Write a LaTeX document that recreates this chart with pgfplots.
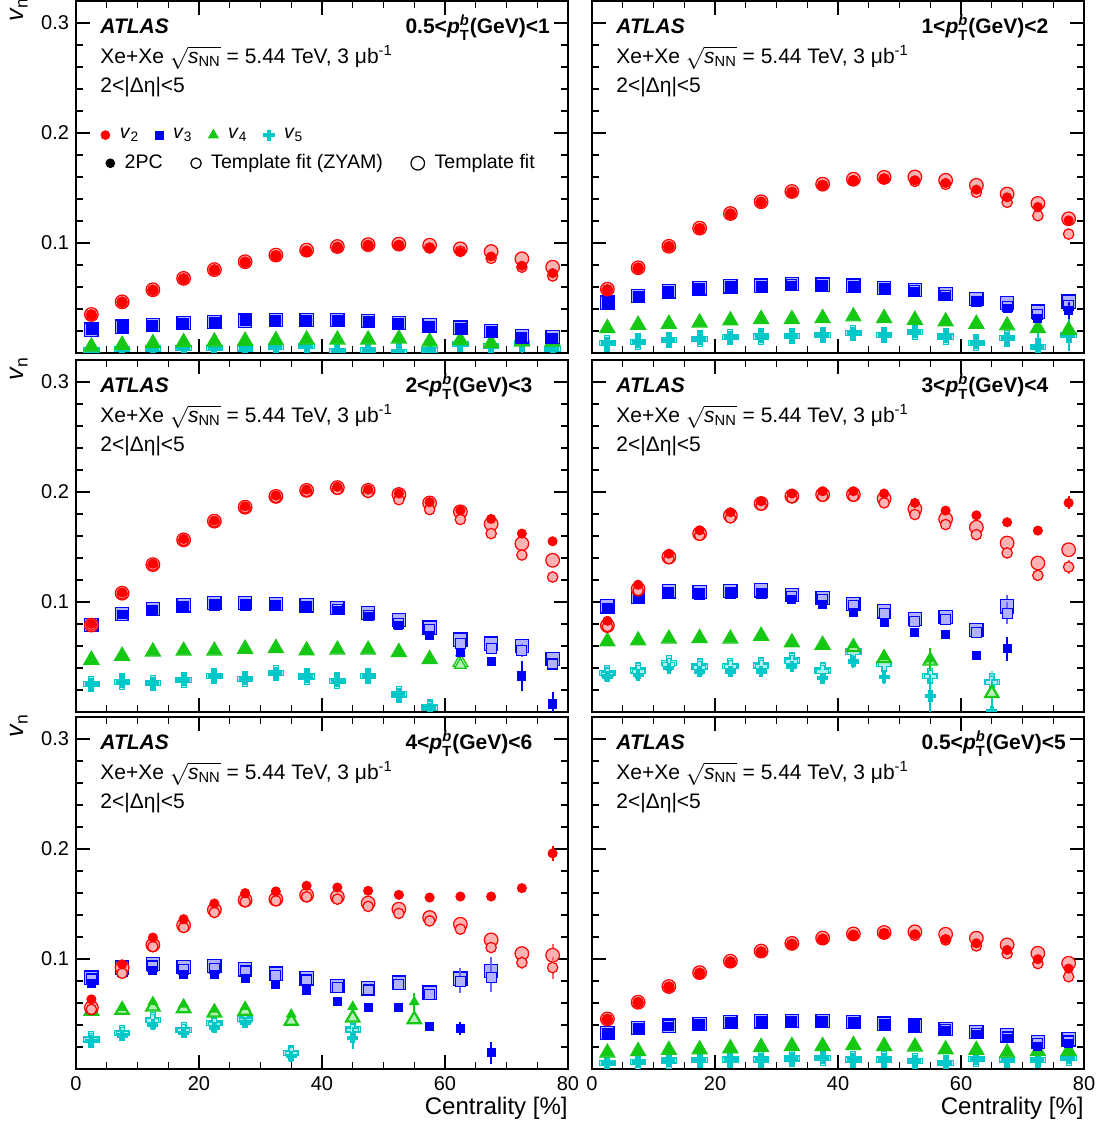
\documentclass[border=0pt]{standalone}
\usepackage{fontspec}
\setmainfont{Liberation Sans}
\usepackage{pgfplots}
\usepackage{pgfplotstable}
\pgfplotsset{compat=1.18}
\definecolor{atlred}{RGB}{255,0,0}
\definecolor{atlblue}{RGB}{0,0,255}
\definecolor{atlgreen}{RGB}{20,200,20}
\definecolor{atlcyan}{RGB}{0,200,200}

\pgfdeclareplotmark{fatplus}{%
  \pgfpathmoveto{\pgfpoint{-0.33\pgfplotmarksize}{\pgfplotmarksize}}%
  \pgfpathlineto{\pgfpoint{0.33\pgfplotmarksize}{\pgfplotmarksize}}%
  \pgfpathlineto{\pgfpoint{0.33\pgfplotmarksize}{0.33\pgfplotmarksize}}%
  \pgfpathlineto{\pgfpoint{\pgfplotmarksize}{0.33\pgfplotmarksize}}%
  \pgfpathlineto{\pgfpoint{\pgfplotmarksize}{-0.33\pgfplotmarksize}}%
  \pgfpathlineto{\pgfpoint{0.33\pgfplotmarksize}{-0.33\pgfplotmarksize}}%
  \pgfpathlineto{\pgfpoint{0.33\pgfplotmarksize}{-\pgfplotmarksize}}%
  \pgfpathlineto{\pgfpoint{-0.33\pgfplotmarksize}{-\pgfplotmarksize}}%
  \pgfpathlineto{\pgfpoint{-0.33\pgfplotmarksize}{-0.33\pgfplotmarksize}}%
  \pgfpathlineto{\pgfpoint{-\pgfplotmarksize}{-0.33\pgfplotmarksize}}%
  \pgfpathlineto{\pgfpoint{-\pgfplotmarksize}{0.33\pgfplotmarksize}}%
  \pgfpathlineto{\pgfpoint{-0.33\pgfplotmarksize}{0.33\pgfplotmarksize}}%
  \pgfpathclose
  \pgfusepathqfillstroke
}

% ---------------- data: c = centrality, pc = 2PC, e = 2PC error, zy = template fit (ZYAM), tf = template fit, te = template error
% Panel A: 0.5<pT<1
\pgfplotstableread{
c pc e zy tf te
2.5 0.0346 0 0.0346 0.0350 0
7.5 0.0462 0 0.0462 0.0465 0
12.5 0.0571 0 0.0571 0.0575 0
17.5 0.0674 0 0.0674 0.0678 0
22.5 0.0753 0 0.0755 0.0758 0
27.5 0.0826 0 0.0826 0.0830 0
32.5 0.0884 0 0.0884 0.0890 0
37.5 0.0926 0 0.0926 0.0935 0
42.5 0.0960 0 0.0960 0.0968 0
47.5 0.0978 0 0.0978 0.0985 0
52.5 0.0978 0 0.0978 0.0990 0
57.5 0.0954 0 0.0954 0.0980 0
62.5 0.0917 0 0.0925 0.0947 0
67.5 0.0877 0 0.0860 0.0922 0
72.5 0.0793 0 0.0780 0.0856 0
77.5 0.0726 0 0.0700 0.0780 0
}\tAtwo
\pgfplotstableread{
c pc e zy tf te
2.5 0.0210 0 0.0210 0.0212 0
7.5 0.0237 0 0.0237 0.0240 0
12.5 0.0252 0 0.0252 0.0255 0
17.5 0.0267 0 0.0267 0.0270 0
22.5 0.0279 0 0.0279 0.0282 0
27.5 0.0292 0 0.0292 0.0295 0
32.5 0.0295 0 0.0295 0.0298 0
37.5 0.0295 0 0.0295 0.0298 0
42.5 0.0295 0 0.0295 0.0298 0
47.5 0.0285 0 0.0285 0.0290 0
52.5 0.0270 0 0.0270 0.0275 0
57.5 0.0243 0 0.0243 0.0250 0
62.5 0.0222 0 0.0222 0.0230 0
67.5 0.0191 0 0.0191 0.0200 0
72.5 0.0143 0 0.0143 0.0150 0
77.5 0.0130 0 0.0135 0.0145 0
}\tAthree
\pgfplotstableread{
c pc e zy tf te
2.5 0.0058 0 0.0058 0.0058 0
7.5 0.0073 0 0.0073 0.0073 0
12.5 0.0088 0 0.0088 0.0088 0
17.5 0.0097 0 0.0097 0.0097 0
22.5 0.0103 0 0.0103 0.0103 0
27.5 0.0110 0 0.0110 0.0110 0
32.5 0.0115 0 0.0115 0.0115 0
37.5 0.0121 0 0.0121 0.0121 0
42.5 0.0121 0 0.0121 0.0121 0
47.5 0.0121 0 0.0121 0.0121 0
52.5 0.0130 0 0.0130 0.0130 0
57.5 0.0103 0 0.0103 0.0103 0
62.5 0.0115 0 0.0115 0.0115 0
67.5 0.0088 0 0.0088 0.0088 0
72.5 0.0103 0 0.0103 0.0103 0
77.5 0.0103 0 0.0103 0.0103 0
}\tAfour
\pgfplotstableread{
c pc e zy tf te
2.5 0.0027 0 0.0027 0.0027 0
7.5 0.0033 0 0.0033 0.0033 0
12.5 0.0040 0 0.0040 0.0040 0
17.5 0.0046 0 0.0046 0.0046 0
22.5 0.0043 0 0.0043 0.0043 0
27.5 0.0040 0 0.0040 0.0040 0
32.5 0.0052 0 0.0052 0.0052 0
37.5 0.0064 0 0.0064 0.0064 0
42.5 0.0021 0 0.0021 0.0021 0
47.5 0.0027 0 0.0027 0.0027 0
52.5 0.0012 0 0.0012 0.0012 0
57.5 0.0027 0 0.0027 0.0027 0
62.5 0.0080 0 0.0080 0.0080 0
67.5 0.0064 0 0.0064 0.0064 0
72.5 0.0088 0.012 0.0088 0.0088 0
77.5 0.0033 0 0.0033 0.0033 0
}\tAfive
% Panel B: 1<pT<2
\pgfplotstableread{
c pc e zy tf te
2.5 0.0574 0 0.0574 0.0580 0
7.5 0.0771 0 0.0771 0.0775 0
12.5 0.0966 0 0.0966 0.0970 0
17.5 0.1130 0 0.1130 0.1135 0
22.5 0.1263 0 0.1263 0.1268 0
27.5 0.1370 0 0.1370 0.1375 0
32.5 0.1461 0 0.1461 0.1468 0
37.5 0.1524 0 0.1524 0.1535 0
42.5 0.1567 0 0.1567 0.1580 0
47.5 0.1582 0 0.1582 0.1597 0
52.5 0.1570 0 0.1560 0.1600 0
57.5 0.1546 0 0.1533 0.1570 0
62.5 0.1485 0 0.1461 0.1524 0
67.5 0.1415 0 0.1370 0.1445 0
72.5 0.1327 0 0.1248 0.1360 0
77.5 0.1206 0 0.1081 0.1220 0
}\tBtwo
\pgfplotstableread{
c pc e zy tf te
2.5 0.0452 0 0.0455 0.0458 0
7.5 0.0513 0 0.0515 0.0520 0
12.5 0.0553 0 0.0555 0.0560 0
17.5 0.0580 0 0.0582 0.0588 0
22.5 0.0598 0 0.0600 0.0606 0
27.5 0.0604 0 0.0606 0.0612 0
32.5 0.0617 0 0.0619 0.0625 0
37.5 0.0614 0 0.0616 0.0622 0
42.5 0.0604 0 0.0606 0.0612 0
47.5 0.0583 0 0.0585 0.0592 0
52.5 0.0562 0 0.0565 0.0575 0
57.5 0.0513 0 0.0520 0.0537 0
62.5 0.0467 0 0.0467 0.0492 0
67.5 0.0407 0 0.0420 0.0452 0
72.5 0.0316 0 0.0350 0.0376 0
77.5 0.0385 0.008 0.0430 0.0467 0
}\tBthree
\pgfplotstableread{
c pc e zy tf te
2.5 0.0225 0 0.0225 0.0225 0
7.5 0.0255 0 0.0255 0.0255 0
12.5 0.0264 0 0.0264 0.0264 0
17.5 0.0276 0 0.0276 0.0276 0
22.5 0.0295 0 0.0295 0.0295 0
27.5 0.0307 0 0.0307 0.0307 0
32.5 0.0307 0 0.0307 0.0307 0
37.5 0.0316 0 0.0316 0.0316 0
42.5 0.0331 0 0.0331 0.0331 0
47.5 0.0316 0 0.0316 0.0316 0
52.5 0.0301 0 0.0301 0.0301 0
57.5 0.0286 0 0.0286 0.0286 0
62.5 0.0264 0 0.0264 0.0264 0
67.5 0.0249 0 0.0249 0.0249 0
72.5 0.0225 0 0.0225 0.0225 0
77.5 0.0209 0 0.0209 0.0209 0
}\tBfour
\pgfplotstableread{
c pc e zy tf te
2.5 0.0088 0 0.0088 0.0088 0
7.5 0.0103 0 0.0103 0.0103 0
12.5 0.0118 0 0.0118 0.0118 0
17.5 0.0130 0 0.0130 0.0130 0
22.5 0.0143 0 0.0143 0.0143 0
27.5 0.0149 0 0.0149 0.0149 0
32.5 0.0155 0 0.0155 0.0155 0
37.5 0.0164 0 0.0164 0.0164 0
42.5 0.0179 0 0.0179 0.0179 0
47.5 0.0164 0 0.0164 0.0164 0
52.5 0.0194 0 0.0194 0.0194 0
57.5 0.0149 0.006 0.0149 0.0149 0
62.5 0.0094 0 0.0094 0.0094 0
67.5 0.0133 0.006 0.0133 0.0133 0
72.5 0.0058 0.012 0.0058 0.0058 0
77.5 0.0164 0.015 0.0164 0.0164 0
}\tBfive
% Panel C: 2<pT<3
\pgfplotstableread{
c pc e zy tf te
2.5 0.0802 0 0.0790 0.0790 0
7.5 0.1087 0 0.1075 0.1080 0
12.5 0.1348 0 0.1335 0.1340 0
17.5 0.1573 0 0.1560 0.1565 0
22.5 0.1740 0 0.1728 0.1735 0
27.5 0.1870 0 0.1855 0.1862 0
32.5 0.1968 0 0.1950 0.1960 0
37.5 0.2022 0 0.2005 0.2015 0
42.5 0.2047 0 0.2025 0.2040 0
47.5 0.2022 0 0.1995 0.2015 0
52.5 0.1986 0 0.1930 0.1977 0
57.5 0.1907 0 0.1840 0.1900 0
62.5 0.1831 0 0.1750 0.1820 0
67.5 0.1755 0 0.1622 0.1710 0
72.5 0.1622 0 0.1427 0.1530 0
77.5 0.1552 0 0.1227 0.1379 0
}\tCtwo
\pgfplotstableread{
c pc e zy tf te
2.5 0.0783 0 0.0785 0.0790 0
7.5 0.0884 0 0.0880 0.0890 0
12.5 0.0923 0 0.0925 0.0935 0
17.5 0.0957 0 0.0960 0.0969 0
22.5 0.0969 0 0.0972 0.0990 0
27.5 0.0969 0 0.0972 0.0990 0
32.5 0.0963 0 0.0965 0.0981 0
37.5 0.0950 0 0.0955 0.0969 0
42.5 0.0920 0 0.0930 0.0944 0
47.5 0.0868 0 0.0880 0.0902 0
52.5 0.0786 0 0.0808 0.0838 0
57.5 0.0692 0 0.0747 0.0768 0
62.5 0.0544 0 0.0626 0.0659 0
67.5 0.0458 0.003 0.0580 0.0622 0.003
72.5 0.0328 0.014 0.0559 0.0598 0.006
77.5 0.0073 0.011 0.0437 0.0480 0.004
}\tCthree
\pgfplotstableread{
c pc e zy tf te
2.5 0.0474 0 0.0474 0.0474 0
7.5 0.0510 0 0.0510 0.0510 0
12.5 0.0549 0 0.0549 0.0549 0
17.5 0.0556 0 0.0556 0.0556 0
22.5 0.0556 0 0.0556 0.0556 0
27.5 0.0574 0 0.0574 0.0574 0
32.5 0.0580 0 0.0580 0.0580 0
37.5 0.0559 0 0.0559 0.0559 0
42.5 0.0565 0 0.0565 0.0565 0
47.5 0.0565 0 0.0565 0.0565 0
52.5 0.0544 0 0.0544 0.0544 0
57.5 0.0480 0 0.0480 0.0480 0
62.5 0.0535 0.004 0.0428 0.0453 0
}\tCfour
\pgfplotstableread{
c pc e zy tf te
2.5 0.0252 0 0.0252 0.0252 0
7.5 0.0276 0 0.0276 0.0276 0
12.5 0.0261 0 0.0261 0.0261 0
17.5 0.0292 0 0.0292 0.0292 0
22.5 0.0328 0 0.0328 0.0328 0
27.5 0.0301 0 0.0301 0.0301 0
32.5 0.0352 0 0.0352 0.0352 0
37.5 0.0322 0 0.0322 0.0322 0
42.5 0.0285 0 0.0285 0.0285 0
47.5 0.0328 0 0.0328 0.0328 0
52.5 0.0155 0.005 0.0160 0.0160 0
57.5 0.0033 0.005 0.0040 0.0040 0
}\tCfive
% Panel D: 3<pT<4
\pgfplotstableread{
c pc e zy tf te
2.5 0.0829 0 0.0777 0.0786 0
7.5 0.1157 0 0.1105 0.1118 0
12.5 0.1439 0 0.1394 0.1409 0
17.5 0.1652 0 0.1606 0.1622 0
22.5 0.1816 0 0.1764 0.1786 0
27.5 0.1916 0 0.1880 0.1895 0
32.5 0.1986 0 0.1947 0.1962 0
37.5 0.2007 0 0.1961 0.1977 0
42.5 0.2007 0 0.1961 0.1977 0
47.5 0.1986 0 0.1901 0.1940 0
52.5 0.1901 0 0.1795 0.1846 0
57.5 0.1831 0 0.1704 0.1755 0
62.5 0.1788 0 0.1612 0.1679 0
67.5 0.1725 0 0.1446 0.1536 0
72.5 0.1649 0 0.1242 0.1354 0
77.5 0.1901 0.006 0.1318 0.1475 0.006
}\tDtwo
\pgfplotstableread{
c pc e zy tf te
2.5 0.0938 0 0.0942 0.0960 0
7.5 0.1026 0 0.1030 0.1045 0
12.5 0.1081 0 0.1081 0.1096 0
17.5 0.1066 0 0.1072 0.1090 0
22.5 0.1075 0 0.1081 0.1102 0
27.5 0.1072 0 0.1080 0.1105 0
32.5 0.1026 0 0.1051 0.1066 0
37.5 0.0975 0 0.1020 0.1036 0
42.5 0.0908 0 0.0966 0.0984 0
47.5 0.0817 0 0.0893 0.0914 0
52.5 0.0726 0 0.0823 0.0845 0
57.5 0.0708 0 0.0838 0.0863 0
62.5 0.0510 0.004 0.0723 0.0747 0.003
67.5 0.0574 0.011 0.0899 0.0960 0.010
}\tDthree
\pgfplotstableread{
c pc e zy tf te
2.5 0.0641 0 0.0641 0.0641 0
7.5 0.0650 0 0.0650 0.0650 0
12.5 0.0665 0 0.0665 0.0665 0
17.5 0.0671 0 0.0671 0.0671 0
22.5 0.0665 0 0.0665 0.0665 0
27.5 0.0692 0 0.0692 0.0692 0
32.5 0.0632 0 0.0632 0.0632 0
37.5 0.0610 0 0.0610 0.0610 0
42.5 0.0610 0 0.0589 0.0589 0
47.5 0.0500 0 0.0489 0.0489 0
55 0.0480 0.010 0.0465 0.0465 0
65 nan 0 0.0170 0.0170 0
}\tDfour
\pgfplotstableread{
c pc e zy tf te
2.5 0.0322 0 0.0345 0.0352 0
7.5 0.0337 0 0.0370 0.0377 0
12.5 0.0398 0 0.0435 0.0443 0
17.5 0.0368 0 0.0405 0.0413 0
22.5 0.0368 0 0.0412 0.0419 0
27.5 0.0368 0 0.0415 0.0422 0
32.5 0.0413 0 0.0460 0.0468 0
37.5 0.0307 0 0.0370 0.0377 0
42.5 0.0458 0.006 0.0540 0.0549 0
47.5 0.0316 0.006 0.0430 0.0437 0
55 0.0146 0.020 0.0320 0.0328 0.010
65 0.0003 0.030 0.0270 0.0276 0.010
}\tDfive
% Panel E: 4<pT<6
\pgfplotstableread{
c pc e zy tf te
2.5 0.0633 0 0.0542 0.0557 0
7.5 0.0952 0 0.0870 0.0922 0
12.5 0.1195 0 0.1113 0.1128 0
17.5 0.1362 0 0.1286 0.1307 0
22.5 0.1505 0 0.1423 0.1447 0
27.5 0.1599 0 0.1520 0.1535 0
32.5 0.1614 0 0.1529 0.1544 0
37.5 0.1666 0 0.1565 0.1581 0
42.5 0.1650 0 0.1544 0.1565 0
47.5 0.1620 0 0.1478 0.1508 0
52.5 0.1583 0 0.1414 0.1453 0
57.5 0.1559 0 0.1346 0.1377 0
62.5 0.1568 0 0.1271 0.1316 0
67.5 0.1568 0 0.1104 0.1174 0.004
72.5 0.1644 0.004 0.0967 0.1049 0.006
77.5 0.1960 0.007 0.0922 0.1034 0.010
}\tEtwo
\pgfplotstableread{
c pc e zy tf te
2.5 0.0779 0 0.0818 0.0831 0
7.5 0.0876 0 0.0891 0.0922 0
12.5 0.0897 0 0.0937 0.0952 0
17.5 0.0861 0 0.0907 0.0928 0
22.5 0.0861 0 0.0913 0.0937 0
27.5 0.0822 0 0.0891 0.0906 0
32.5 0.0770 0 0.0852 0.0867 0
37.5 0.0715 0 0.0809 0.0824 0
42.5 0.0612 0 0.0740 0.0754 0
47.5 0.0557 0 0.0718 0.0733 0
52.5 0.0557 0.002 0.0771 0.0785 0.003
57.5 0.0390 0.003 0.0680 0.0694 0.003
62.5 0.0369 0.006 0.0794 0.0822 0.010
67.5 0.0147 0.010 0.0831 0.0891 0.013
}\tEthree
\pgfplotstableread{
c pc e zy tf te
2.5 0.0557 0 0.0527 0.0527 0
7.5 0.0557 0 0.0536 0.0536 0
12.5 0.0609 0 0.0566 0.0566 0
17.5 0.0588 0 0.0551 0.0551 0
22.5 0.0542 0 0.0512 0.0512 0
27.5 0.0566 0 0.0527 0.0527 0
35 0.0496 0 0.0436 0.0436 0
45 0.0566 0 0.0466 0.0466 0
55 0.0609 0.008 0.0451 0.0451 0
}\tEfour
\pgfplotstableread{
c pc e zy tf te
2.5 0.0254 0 0.0265 0.0269 0
7.5 0.0305 0 0.0325 0.0329 0
12.5 0.0405 0 0.0438 0.0442 0
17.5 0.0329 0 0.0350 0.0354 0
22.5 0.0375 0 0.0410 0.0415 0
27.5 0.0421 0.004 0.0446 0.0451 0
35 0.0117 0.005 0.0145 0.0147 0
45 0.0284 0.010 0.0355 0.0360 0
}\tEfive
% Panel F: 0.5<pT<5
\pgfplotstableread{
c pc e zy tf te
2.5 0.0451 0 0.0451 0.0455 0
7.5 0.0603 0 0.0603 0.0607 0
12.5 0.0745 0 0.0745 0.0750 0
17.5 0.0870 0 0.0870 0.0876 0
22.5 0.0973 0 0.0973 0.0980 0
27.5 0.1064 0 0.1064 0.1072 0
32.5 0.1134 0 0.1134 0.1142 0
37.5 0.1180 0 0.1180 0.1190 0
42.5 0.1216 0 0.1216 0.1228 0
47.5 0.1234 0 0.1230 0.1241 0
52.5 0.1225 0 0.1215 0.1247 0
57.5 0.1180 0 0.1173 0.1225 0
62.5 0.1143 0 0.1119 0.1189 0
67.5 0.1082 0 0.1049 0.1128 0
72.5 0.0998 0 0.0958 0.1052 0
77.5 0.0913 0 0.0839 0.0961 0
}\tFtwo
\pgfplotstableread{
c pc e zy tf te
2.5 0.0320 0 0.0322 0.0325 0
7.5 0.0366 0 0.0368 0.0371 0
12.5 0.0390 0 0.0392 0.0395 0
17.5 0.0405 0 0.0407 0.0410 0
22.5 0.0421 0 0.0423 0.0426 0
27.5 0.0427 0 0.0429 0.0432 0
32.5 0.0433 0 0.0435 0.0438 0
37.5 0.0433 0 0.0435 0.0438 0
42.5 0.0421 0 0.0423 0.0426 0
47.5 0.0405 0 0.0408 0.0412 0
52.5 0.0384 0 0.0390 0.0395 0
57.5 0.0351 0 0.0358 0.0366 0
62.5 0.0314 0 0.0325 0.0338 0
67.5 0.0275 0 0.0290 0.0305 0
72.5 0.0208 0 0.0230 0.0245 0
77.5 0.0232 0 0.0255 0.0269 0
}\tFthree
\pgfplotstableread{
c pc e zy tf te
2.5 0.0147 0 0.0147 0.0147 0
7.5 0.0162 0 0.0162 0.0162 0
12.5 0.0172 0 0.0172 0.0172 0
17.5 0.0178 0 0.0178 0.0178 0
22.5 0.0187 0 0.0187 0.0187 0
27.5 0.0199 0 0.0199 0.0199 0
32.5 0.0208 0 0.0208 0.0208 0
37.5 0.0208 0 0.0208 0.0208 0
42.5 0.0217 0 0.0217 0.0217 0
47.5 0.0208 0 0.0208 0.0208 0
52.5 0.0202 0 0.0202 0.0202 0
57.5 0.0178 0 0.0178 0.0178 0
62.5 0.0172 0 0.0172 0.0172 0
67.5 0.0147 0 0.0147 0.0147 0
72.5 0.0162 0 0.0162 0.0162 0
77.5 0.0162 0 0.0162 0.0162 0
}\tFfour
\pgfplotstableread{
c pc e zy tf te
2.5 0.0056 0 0.0056 0.0056 0
7.5 0.0065 0 0.0065 0.0065 0
12.5 0.0077 0 0.0077 0.0077 0
17.5 0.0080 0 0.0080 0.0080 0
22.5 0.0087 0 0.0087 0.0087 0
27.5 0.0087 0 0.0087 0.0087 0
32.5 0.0096 0 0.0096 0.0096 0
37.5 0.0102 0 0.0102 0.0102 0
42.5 0.0087 0 0.0087 0.0087 0
47.5 0.0087 0 0.0087 0.0087 0
52.5 0.0071 0 0.0071 0.0071 0
57.5 0.0056 0 0.0056 0.0056 0
62.5 0.0093 0 0.0093 0.0093 0
67.5 0.0087 0 0.0087 0.0087 0
72.5 0.0080 0 0.0080 0.0080 0
77.5 0.0102 0.006 0.0102 0.0102 0
}\tFfive

% ---------------- one harmonic: table, colour, mark, 2PC size, ZYAM size, template size
\newcommand{\harm}[6]{%
 \addplot[forget plot, only marks, mark=#3, mark size=#6, draw=#2, fill=#2!30, line width=0.6pt,
   error bars/.cd, y dir=both, y explicit, error mark=none, error bar style={line width=1pt, #2!60}]
   table[x=c, y=tf, y error=te]{#1};
 \addplot[forget plot, only marks, mark=#3, mark size=#5, draw=#2, fill=#2!30, line width=0.6pt,
   error bars/.cd, y dir=both, y explicit, error mark=none, error bar style={line width=1pt, #2!60}]
   table[x=c, y=zy, y error=te]{#1};
 \addplot[forget plot, only marks, mark=#3, mark size=#4, draw=#2, fill=#2, line width=0.6pt,
   error bars/.cd, y dir=both, y explicit, error mark=none, error bar style={line width=1pt, #2}]
   table[x=c, y=pc, y error=e]{#1};
}
\newcommand{\allharm}[4]{%
 \harm{#4}{atlcyan}{fatplus}{2.5pt}{3.0pt}{3.8pt}
 \harm{#3}{atlgreen}{triangle*}{2.6pt}{3.3pt}{4.3pt}
 \harm{#2}{atlblue}{square*}{2.0pt}{2.5pt}{3.3pt}
 \harm{#1}{atlred}{*}{2.2pt}{2.6pt}{3.4pt}
}
\newcommand{\pfont}{\fontsize{10.5}{12}\selectfont}
\newcommand{\ptext}[2]{%
 \node[anchor=base west, inner sep=0pt, font=\pfont] at (rel axis cs:0.0488,0.909) {\textbf{\textit{ATLAS}}};
 \node[anchor=base west, inner sep=0pt, font=\pfont] at (rel axis cs:0.0488,0.823) {Xe+Xe $\sqrt{\mbox{\pfont\textit{s}\textsubscript{NN}}}$ = 5.44 TeV, 3 μb\textsuperscript{-1}};
 \node[anchor=base west, inner sep=0pt, font=\pfont] at (rel axis cs:0.0488,0.740) {2<|Δη|<5};
 \node[anchor=base west, inner sep=0pt, font=\pfont] at (rel axis cs:0.669,0.909) {\textbf{#1<\textit{p}\rlap{\raisebox{-0.4ex}{\textsubscript{T}}}\textsuperscript{\textit{b}}(GeV)<#2}};
}

\pgfplotsset{panel/.style={
  scale only axis, width=246pt, height=176pt, anchor=south west,
  xmin=0, xmax=80, ymin=0, ymax=0.32,
  xtick={0,20,40,60,80}, minor xtick={5,10,15,25,30,35,45,50,55,65,70,75},
  ytick={0.1,0.2,0.3}, minor ytick={0.02,0.04,0.06,0.08,0.12,0.14,0.16,0.18,0.22,0.24,0.26,0.28},
  tick align=inside, tick pos=both,
  major tick length=7pt, minor tick length=3.7pt,
  axis line style={line width=0.8pt, black},
  every tick/.style={black, line width=0.6pt},
  clip mode=individual, clip marker paths=true,
  xticklabels={}, yticklabels={},
  tick label style={font=\fontsize{10}{12}\selectfont},
  legend image code/.code={\draw[##1, only marks] plot coordinates {(0pt,0pt)};},
}}
\newcommand{\ylab}{\node[rotate=90, anchor=base east, inner sep=0pt, font=\fontsize{12.5}{14}\selectfont] at ([xshift=-26pt, yshift=2pt]rel axis cs:0,1) {\textit{v}\textsubscript{n}};}
\newcommand{\xlab}{\node[anchor=base east, inner sep=0pt, font=\fontsize{12}{14}\selectfont] at ([yshift=-23pt]rel axis cs:1,0) {Centrality [\%]};}

\begin{document}
\begin{tikzpicture}
% ---------- A
\begin{axis}[panel, at={(38pt,388pt)}, yticklabels={0.1,0.2,0.3},
  legend columns=4,
  legend style={draw=none, fill=none, inner sep=0pt, at={(0.05,0.619)}, anchor=west,
    font=\fontsize{9.8}{11}\selectfont,
    /tikz/every odd column/.append style={column sep=3pt},
    /tikz/every even column/.append style={column sep=6pt}}]
\addlegendimage{only marks, mark=*, mark size=2.2pt, draw=atlred, fill=atlred}
\addlegendentry{\textit{v}\textsubscript{2}}
\addlegendimage{only marks, mark=square*, mark size=2.0pt, draw=atlblue, fill=atlblue}
\addlegendentry{\textit{v}\textsubscript{3}}
\addlegendimage{only marks, mark=triangle*, mark size=2.8pt, draw=atlgreen, fill=atlgreen}
\addlegendentry{\textit{v}\textsubscript{4}}
\addlegendimage{only marks, mark=fatplus, mark size=2.6pt, draw=atlcyan, fill=atlcyan}
\addlegendentry{\textit{v}\textsubscript{5}}
\allharm{\tAtwo}{\tAthree}{\tAfour}{\tAfive}
\ptext{0.5}{1}
\ylab
\end{axis}
\begin{axis}[panel, at={(38pt,388pt)}, hide axis,
  legend columns=3,
  legend style={draw=none, fill=none, inner sep=0pt, at={(0.06,0.539)}, anchor=west,
    font=\fontsize{9.8}{11}\selectfont,
    /tikz/every odd column/.append style={column sep=3pt},
    /tikz/every even column/.append style={column sep=12pt}}]
\addlegendimage{only marks, mark=*, mark size=2.2pt, draw=black, fill=black}
\addlegendentry{2PC}
\addlegendimage{only marks, mark=o, mark size=2.6pt, draw=black, line width=0.6pt}
\addlegendentry{Template fit (ZYAM)}
\addlegendimage{only marks, mark=o, mark size=3.4pt, draw=black, line width=0.6pt}
\addlegendentry{Template fit}
\end{axis}
% ---------- B
\begin{axis}[panel, at={(296pt,388pt)}]
\allharm{\tBtwo}{\tBthree}{\tBfour}{\tBfive}
\ptext{1}{2}
\end{axis}
% ---------- C
\begin{axis}[panel, at={(38pt,208.5pt)}, yticklabels={0.1,0.2,0.3}]
\allharm{\tCtwo}{\tCthree}{\tCfour}{\tCfive}
\ptext{2}{3}
\ylab
\end{axis}
% ---------- D
\begin{axis}[panel, at={(296pt,208.5pt)}]
\allharm{\tDtwo}{\tDthree}{\tDfour}{\tDfive}
\ptext{3}{4}
\end{axis}
% ---------- E
\begin{axis}[panel, at={(38pt,30pt)}, yticklabels={0.1,0.2,0.3}, xticklabels={0,20,40,60,80}]
\allharm{\tEtwo}{\tEthree}{\tEfour}{\tEfive}
\ptext{4}{6}
\ylab\xlab
\end{axis}
% ---------- F
\begin{axis}[panel, at={(296pt,30pt)}, xticklabels={0,20,40,60,80}]
\allharm{\tFtwo}{\tFthree}{\tFfour}{\tFfive}
\ptext{0.5}{5}
\xlab
\end{axis}
\pgfresetboundingbox
\path[use as bounding box] (0,0) rectangle (551.5pt,564.5pt);
\end{tikzpicture}
\end{document}
